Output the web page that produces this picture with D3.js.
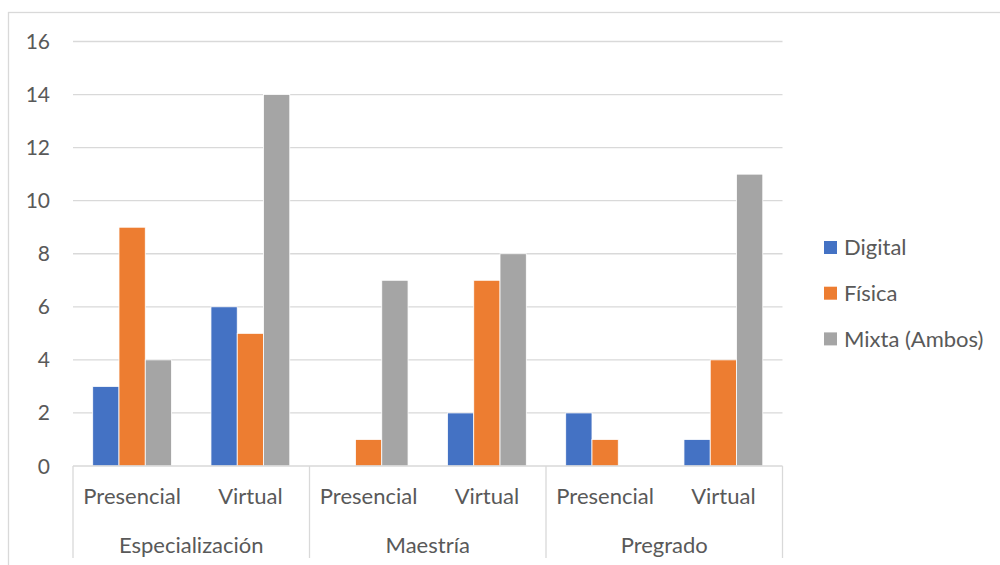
<!DOCTYPE html>
<html><head><meta charset="utf-8">
<script src="https://cdn.jsdelivr.net/npm/d3@7"></script>
<style>
html,body{margin:0;padding:0;background:#fff;}
svg{display:block;font-family:Lato,"Open Sans",sans-serif;}
</style></head>
<body><svg id="c" width="1000" height="565"></svg>
<script>
const groups = ["Especialización","Maestría","Pregrado"];
const modes = ["Presencial","Virtual"];
const seriesNames = ["Digital","Física","Mixta (Ambos)"];
const digital = [3, 6, 0, 2, 2, 1];
const fisica  = [9, 5, 1, 7, 1, 4];
const mixta   = [4, 14, 7, 8, 0, 11];
const yTicks = [0,2,4,6,8,10,12,14,16];
const colors = ["#4472C4","#ED7D31","#A5A5A5"];

(function(){
const svg = d3.select("#c");
const seriesVals = [digital, fisica, mixta];
const cats = [];
groups.forEach(g => modes.forEach(m => cats.push({g, m, key: g + "|" + m})));

const pL = 73, pR = 782.5, pT = 41.5, pB = 466;
const x = d3.scaleBand().domain(cats.map(c=>c.key)).range([pL,pR]).paddingInner(0).paddingOuter(0);
const bw = x.bandwidth()/4.5;
const xs = d3.scaleBand().domain(seriesNames).range([0, 3*bw]);
const y = d3.scaleLinear().domain([0,16]).range([pB, pT]);
const fs = 22, txt = "#595959", grid = "#D9D9D9";

// outer border
svg.append("rect").attr("x",8.5).attr("y",12.5).attr("width",1000).attr("height",600)
  .attr("fill","none").attr("stroke",grid).attr("stroke-width",1.3);

// gridlines
svg.append("g").selectAll("line").data(yTicks.filter(t=>t>0)).join("line")
  .attr("x1",pL).attr("x2",pR).attr("y1",d=>y(d)).attr("y2",d=>y(d))
  .attr("stroke",grid).attr("stroke-width",1.3);

// y labels
svg.append("g").selectAll("text").data(yTicks).join("text")
  .attr("x",50).attr("y",d=>y(d)).attr("dy","0.36em").attr("text-anchor","end")
  .attr("font-size",fs-1).attr("fill",txt).text(d=>d);

// bars
seriesNames.forEach((s,si)=>{
  svg.append("g").selectAll("rect").data(cats.map((c,i)=>({c, v: seriesVals[si][i]})).filter(d=>d.v>0)).join("rect")
    .attr("x",d=>x(d.c.key) + 0.75*bw + xs(s))
    .attr("width",xs.bandwidth())
    .attr("y",d=>y(d.v)).attr("height",d=>y(0)-y(d.v))
    .attr("fill",colors[si]).attr("stroke","#fff").attr("stroke-width",0.8);
});

// x axis line
svg.append("line").attr("x1",pL).attr("x2",pR).attr("y1",pB).attr("y2",pB)
  .attr("stroke",grid).attr("stroke-width",1.3);
// group separators
const gw = (pR-pL)/groups.length;
svg.append("g").selectAll("line").data(d3.range(groups.length+1)).join("line")
  .attr("x1",d=>pL+d*gw).attr("x2",d=>pL+d*gw).attr("y1",pB).attr("y2",558)
  .attr("stroke",grid).attr("stroke-width",1.3);

// category labels
svg.append("g").selectAll("text").data(cats).join("text")
  .attr("x",d=>x(d.key)+x.bandwidth()/2).attr("y",503.5).attr("text-anchor","middle")
  .attr("font-size",fs).attr("fill",txt).text(d=>d.m);
svg.append("g").selectAll("text").data(groups).join("text")
  .attr("x",(d,i)=>pL+(i+0.5)*gw).attr("y",553).attr("text-anchor","middle")
  .attr("font-size",fs).attr("fill",txt).text(d=>d);

// legend
const lg = svg.append("g").selectAll("g").data(seriesNames).join("g")
  .attr("transform",(d,i)=>`translate(824,${247.5+i*45.7})`);
lg.append("rect").attr("x",0).attr("y",-6.5).attr("width",13).attr("height",13).attr("fill",(d,i)=>colors[i]);
lg.append("text").attr("x",20).attr("y",0).attr("dy","0.36em").attr("font-size",fs).attr("fill",txt).text(d=>d);
})();
</script></body></html>
